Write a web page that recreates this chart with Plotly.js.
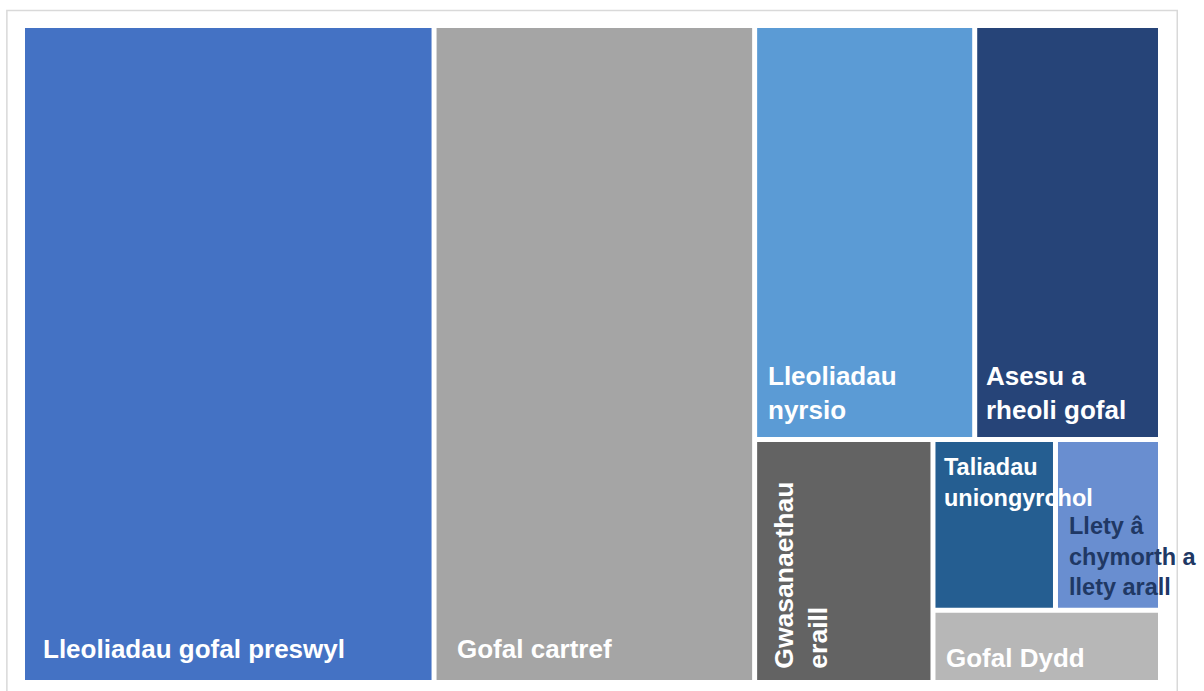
<!DOCTYPE html>
<html>
<head>
<meta charset="utf-8">
<script src="https://cdn.plot.ly/plotly-3.0.1.min.js"></script>
<style>html,body{margin:0;padding:0;background:#fff;}#chart{width:1204px;height:691px;}</style>
</head>
<body>
<div id="chart"></div>
<script>
// Categories (Welsh), shares of spend (%), colours
const categories = ['Lleoliadau gofal preswyl', 'Gofal cartref', 'Lleoliadau nyrsio', 'Asesu a rheoli gofal',
  'Gwasanaethau eraill', 'Taliadau uniongyrchol', 'Llety â chymorth a llety arall', 'Gofal Dydd'];
const shares = [36.2, 28.2, 12.2, 10.3, 5.8, 2.8, 2.4, 2.2];
const labelText = ['Lleoliadau gofal preswyl', 'Gofal cartref', 'Lleoliadau<br>nyrsio', 'Asesu a<br>rheoli gofal',
  'Gwasanaethau<br>eraill', 'Taliadau<br>uniongyrchol', 'Llety â<br>chymorth a<br>llety arall', 'Gofal Dydd'];
const colours = ['#4472C4', '#A5A5A5', '#5B9BD5', '#264478', '#636363', '#255E91', '#698ED0', '#B7B7B7'];
const textColours = ['#FFFFFF', '#FFFFFF', '#FFFFFF', '#FFFFFF', '#FFFFFF', '#FFFFFF', '#203864', '#FFFFFF'];

// invisible grouping nodes that reproduce the tile arrangement (slice-dice)
const groups = ['g1', 'g2', 'g3', 'g4', 'g5'];
const groupParents = ['root', 'g1', 'g1', 'g3', 'g4'];
const leafParents = ['root', 'root', 'g2', 'g2', 'g3', 'g5', 'g5', 'g4'];
const order = ['root', 'L0', 'L1', 'g1', 'g2', 'L2', 'L3', 'g3', 'L4', 'g4', 'g5', 'L5', 'L6', 'L7'];

// label styling: anchor corner inside the tile, inset (px), font size, rotation
const labelStyle = [
  {corner: 'bl', dx: 17, dy: 15, size: 26, angle: 0},
  {corner: 'bl', dx: 19, dy: 15, size: 26, angle: 0},
  {corner: 'bl', dx: 10, dy: 11, size: 26, angle: 0},
  {corner: 'bl', dx: 8,  dy: 11, size: 26, angle: 0},
  {corner: 'bl', dx: 10, dy: 10, size: 26.5, angle: -90},
  {corner: 'tl', dx: 8,  dy: 11, size: 23.5, angle: 0},
  {corner: 'tl', dx: 10, dy: 70, size: 23.5, angle: 0},
  {corner: 'bl', dx: 10, dy: 6,  size: 26, angle: 0}
];

const ids = [], labels = [], parents = [], values = [], mcolors = [];
order.forEach(function (key) {
  if (key === 'root') {
    ids.push('root'); labels.push(''); parents.push(''); values.push(0); mcolors.push('#FFFFFF');
  } else if (key[0] === 'g') {
    const gi = groups.indexOf(key);
    ids.push(key); labels.push(''); parents.push(groupParents[gi]); values.push(0); mcolors.push('#FFFFFF');
  } else {
    const i = +key.slice(1);
    ids.push(key); labels.push(categories[i]); parents.push(leafParents[i]); values.push(shares[i]);
    mcolors.push(colours[i]);
  }
});

const trace = {
  type: 'treemap',
  ids: ids, labels: labels, parents: parents, values: values,
  branchvalues: 'remainder',
  sort: false,
  textinfo: 'none',
  marker: {colors: mcolors, line: {width: 0, color: '#FFFFFF'}, pad: {t: 0, l: 0, r: 0, b: 0}},
  tiling: {packing: 'slice-dice', pad: 5},
  pathbar: {visible: false},
  hoverinfo: 'label+value',
  root: {color: '#FFFFFF'}
};

const layout = {
  width: 1204, height: 691,
  margin: {l: 25, r: 46, t: 28, b: 11},
  paper_bgcolor: '#FFFFFF',
  showlegend: false,
  shapes: [{type: 'rect', xref: 'paper', yref: 'paper', x0: -0.016, x1: 1.017, y0: -0.05, y1: 1.027,
    line: {color: '#D9D9D9', width: 1.5}, fillcolor: 'rgba(0,0,0,0)', layer: 'below'}]
};

const gd = document.getElementById('chart');

function nodeId(d) {
  if (!d) return null;
  if (d.data && d.data.data && d.data.data.id != null) return d.data.data.id;
  if (d.data && d.data.id != null) return d.data.id;
  if (d.id != null) return d.id;
  return null;
}

Plotly.newPlot(gd, [trace], layout, {displayModeBar: false, staticPlot: true}).then(function () {
  const sz = gd._fullLayout._size;
  const box = gd.getBoundingClientRect();
  const rects = {};
  gd.querySelectorAll('g.slice').forEach(function (g) {
    const id = nodeId(g.__data__);
    const p = g.querySelector('path.surface') || g.querySelector('path');
    if (id && p) rects[id] = p.getBoundingClientRect();
  });
  const anns = [];
  categories.forEach(function (c, i) {
    const r = rects['L' + i];
    if (!r) return;
    const st = labelStyle[i];
    const px = r.left - box.left + st.dx;
    const py = st.corner === 'tl' ? (r.top - box.top + st.dy) : (r.bottom - box.top - st.dy);
    anns.push({
      xref: 'paper', yref: 'paper',
      x: (px - sz.l) / sz.w, y: 1 - (py - sz.t) / sz.h,
      xanchor: 'left', yanchor: st.corner === 'tl' ? 'top' : 'bottom',
      text: labelText[i], align: 'left', showarrow: false, textangle: st.angle,
      borderpad: 0,
      font: {family: 'Liberation Sans, Arial, sans-serif', size: st.size, color: textColours[i], weight: 'bold'}
    });
  });
  return Plotly.relayout(gd, {annotations: anns});
});
</script>
</body>
</html>
